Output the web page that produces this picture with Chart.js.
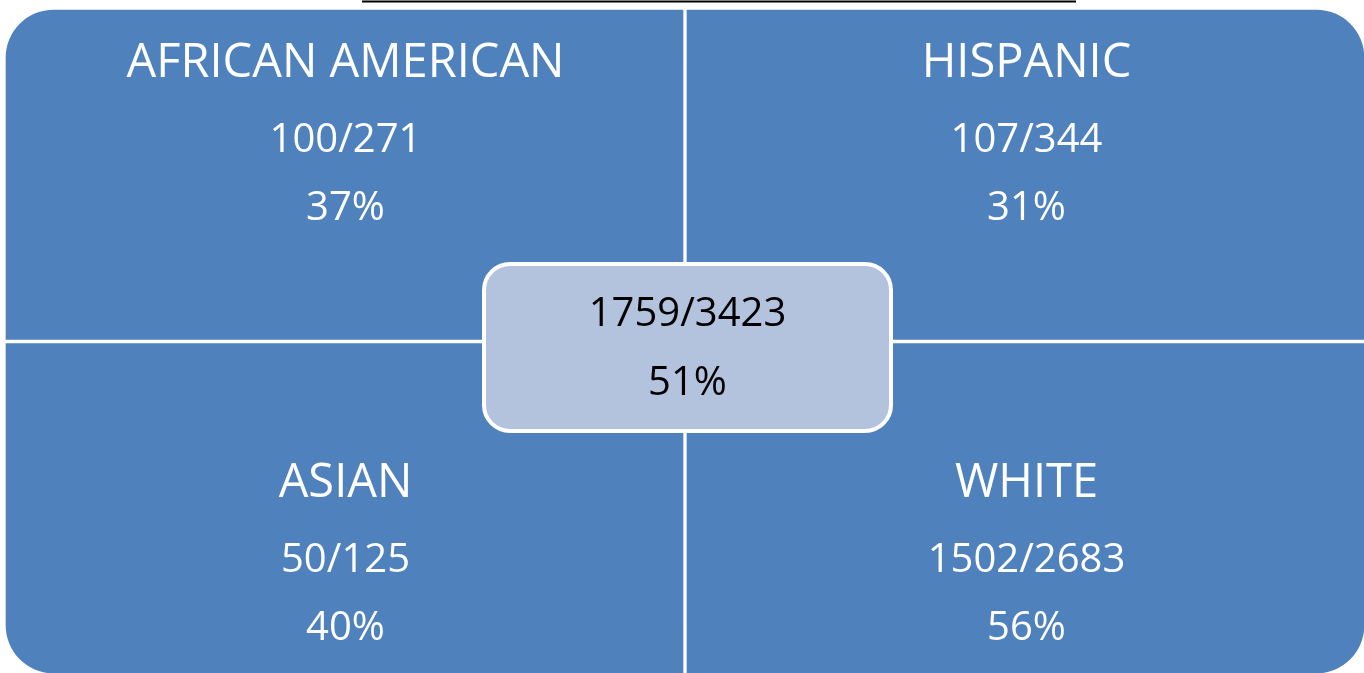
<!DOCTYPE html>
<html>
<head>
<meta charset="utf-8">
<script src="https://cdn.jsdelivr.net/npm/chart.js@4.4.1/dist/chart.umd.min.js"></script>
<style>
  html, body { margin: 0; padding: 0; background: #fff; overflow: hidden; }
  #wrap { width: 1366px; height: 675px; position: relative; }
</style>
</head>
<body>
<div id="wrap"><canvas id="quadChart" width="1366" height="675"></canvas></div>
<script>
// quadrant data: top-left, top-right, bottom-left, bottom-right
var groups = ['AFRICAN AMERICAN', 'HISPANIC', 'ASIAN', 'WHITE'];
var passed = [100, 107, 50, 1502];
var totals = [271, 344, 125, 2683];
var percents = ['37%', '31%', '40%', '56%'];

var overallPassed = 1759;
var overallTotal = 3423;
var overallPercent = '51%';

var columns = ['left', 'right'];
var topRow = [[1, 2], [1, 2]];
var bottomRow = [[0, 1], [0, 1]];

var blue = '#4f81bd';
var lightBlue = '#b3c2dd';
var fontName = "'Open Sans', 'Liberation Sans', sans-serif";

function roundRect(ctx, x, y, w, h, r) {
  ctx.beginPath();
  ctx.moveTo(x + r, y);
  ctx.lineTo(x + w - r, y);
  ctx.arcTo(x + w, y, x + w, y + r, r);
  ctx.lineTo(x + w, y + h - r);
  ctx.arcTo(x + w, y + h, x + w - r, y + h, r);
  ctx.lineTo(x + r, y + h);
  ctx.arcTo(x, y + h, x, y + h - r, r);
  ctx.lineTo(x, y + r);
  ctx.arcTo(x, y, x + r, y, r);
  ctx.closePath();
}

var labelPlugin = {
  id: 'quadLabels',
  afterDatasetsDraw: function(chart) {
    var ctx = chart.ctx;
    var xs = chart.scales.x;
    var ys = chart.scales.y;
    ctx.save();
    ctx.textAlign = 'center';
    ctx.textBaseline = 'alphabetic';
    ctx.fillStyle = '#ffffff';

    // baselines of the three text rows (y axis values)
    var topLines = [1.793, 1.568, 1.364];
    var bottomLines = [0.534, 0.309, 0.105];
    for (var i = 0; i < groups.length; i++) {
      var col = i % 2;
      var lines = i < 2 ? topLines : bottomLines;
      var cx = xs.getPixelForValue(col) + 1;
      ctx.font = '47px ' + fontName;
      ctx.fillText(groups[i], cx, ys.getPixelForValue(lines[0]));
      ctx.font = '40px ' + fontName;
      ctx.fillText(passed[i] + '/' + totals[i], cx, ys.getPixelForValue(lines[1]));
      ctx.fillText(percents[i], cx, ys.getPixelForValue(lines[2]));
    }

    // center box
    var midX = (xs.getPixelForValue(0) + xs.getPixelForValue(1)) / 2 + 2.5;
    var midY = ys.getPixelForValue(1) + 6;
    roundRect(ctx, midX - 203.5, midY - 83.5, 407, 167, 26);
    ctx.fillStyle = lightBlue;
    ctx.fill();
    ctx.lineWidth = 4;
    ctx.strokeStyle = '#ffffff';
    ctx.stroke();

    ctx.fillStyle = '#000000';
    ctx.font = '40px ' + fontName;
    ctx.fillText(overallPassed + '/' + overallTotal, midX, midY - 21.5);
    ctx.fillText(overallPercent, midX, midY + 47.5);

    // underline of the (cut off) title above the chart
    ctx.beginPath();
    ctx.moveTo(362, 1.5);
    ctx.lineTo(1076, 1.5);
    ctx.lineWidth = 2;
    ctx.strokeStyle = '#000000';
    ctx.stroke();
    ctx.restore();
  }
};

function cornerRadius(row) {
  return function(context) {
    var r = 50;
    if (row === 'top') {
      return context.dataIndex === 0 ? { topLeft: r, topRight: 0, bottomLeft: 0, bottomRight: 0 }
                                     : { topLeft: 0, topRight: r, bottomLeft: 0, bottomRight: 0 };
    }
    return context.dataIndex === 0 ? { topLeft: 0, topRight: 0, bottomLeft: r, bottomRight: 0 }
                                   : { topLeft: 0, topRight: 0, bottomLeft: 0, bottomRight: r };
  };
}

var ctxQ = document.getElementById('quadChart').getContext('2d');
var quadChart = new Chart(ctxQ, {
  type: 'bar',
  data: {
    labels: columns,
    datasets: [{
      data: topRow,
      backgroundColor: blue,
      borderColor: '#ffffff',
      borderWidth: 2,
      borderSkipped: false,
      borderRadius: cornerRadius('top'),
      grouped: false,
      barPercentage: 1,
      categoryPercentage: 1
    }, {
      data: bottomRow,
      backgroundColor: blue,
      borderColor: '#ffffff',
      borderWidth: 2,
      borderSkipped: false,
      borderRadius: cornerRadius('bottom'),
      grouped: false,
      barPercentage: 1,
      categoryPercentage: 1
    }]
  },
  options: {
    responsive: false,
    animation: false,
    layout: { padding: { left: 4, top: 8, right: 0, bottom: 0 } },
    plugins: { legend: { display: false }, tooltip: { enabled: false } },
    scales: {
      x: { display: false },
      y: { display: false, min: 0, max: 2 }
    }
  },
  plugins: [labelPlugin]
});
</script>
</body>
</html>
